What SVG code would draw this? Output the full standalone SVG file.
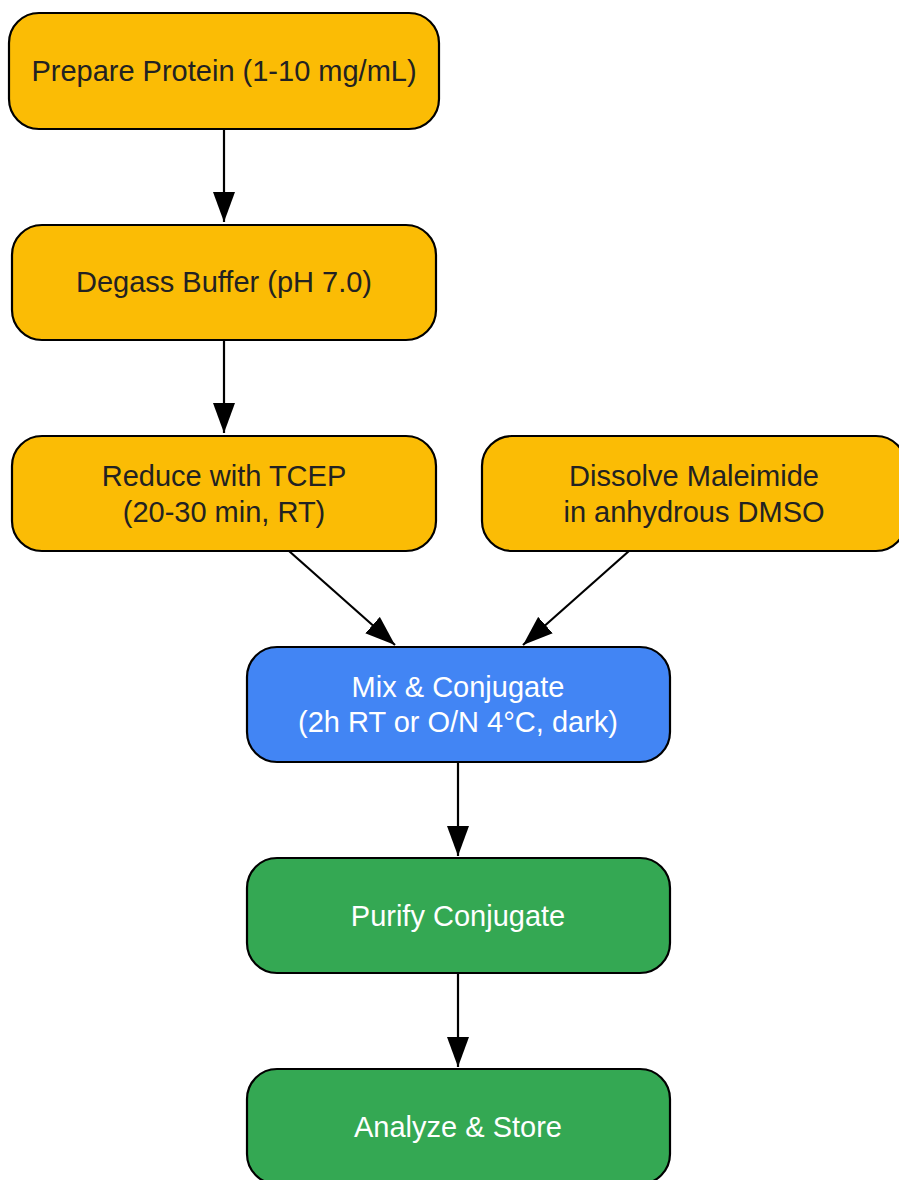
<svg xmlns="http://www.w3.org/2000/svg" width="899" height="1180" viewBox="0 0 899 1180">
<defs>
<style>
.n{stroke:#000;stroke-width:2.2}
.y{fill:#FBBC05}
.b{fill:#4285F4}
.g{fill:#34A853}
text{font-family:"Liberation Sans",Arial,sans-serif;font-size:29px;text-anchor:middle}
.dk{fill:#222}
.wt{fill:#fff}
.e{stroke:#000;stroke-width:2.2;fill:none;marker-end:url(#ah)}
</style>
<marker id="ah" markerUnits="userSpaceOnUse" markerWidth="30" markerHeight="22" refX="30" refY="11" orient="auto" viewBox="0 0 30 22">
<path d="M0,0 L30,11 L0,22 z" fill="#000"/>
</marker>
</defs>
<rect width="899" height="1180" fill="#fff"/>
<g id="edges">
<line class="e" x1="224" y1="129" x2="224" y2="222"/>
<line class="e" x1="224" y1="340" x2="224" y2="433"/>
<line class="e" x1="289" y1="551" x2="395" y2="645"/>
<line class="e" x1="629" y1="551" x2="523" y2="645"/>
<line class="e" x1="458" y1="762" x2="458" y2="856"/>
<line class="e" x1="458" y1="973" x2="458" y2="1067"/>
</g>
<g id="prepare">
<rect class="n y" x="9" y="13" width="430" height="116" rx="30"/>
<text class="dk" x="224" y="81">Prepare Protein (1-10 mg/mL)</text>
</g>
<g id="degass">
<rect class="n y" x="12" y="225" width="424" height="115" rx="30"/>
<text class="dk" x="224" y="292">Degass Buffer (pH 7.0)</text>
</g>
<g id="reduce">
<rect class="n y" x="12" y="436" width="424" height="115" rx="30"/>
<text class="dk" x="224" y="486">Reduce with TCEP</text>
<text class="dk" x="224" y="522">(20-30 min, RT)</text>
</g>
<g id="dissolve">
<rect class="n y" x="482" y="436" width="424" height="115" rx="30"/>
<text class="dk" x="694" y="486">Dissolve Maleimide</text>
<text class="dk" x="694" y="522">in anhydrous DMSO</text>
</g>
<g id="mix">
<rect class="n b" x="247" y="647" width="423" height="115" rx="30"/>
<text class="wt" x="458" y="697">Mix &amp; Conjugate</text>
<text class="wt" x="458" y="732">(2h RT or O/N 4°C, dark)</text>
</g>
<g id="purify">
<rect class="n g" x="247" y="858" width="423" height="115" rx="30"/>
<text class="wt" x="458" y="926">Purify Conjugate</text>
</g>
<g id="analyze">
<rect class="n g" x="247" y="1069" width="423" height="115" rx="30"/>
<text class="wt" x="458" y="1137">Analyze &amp; Store</text>
</g>
</svg>
